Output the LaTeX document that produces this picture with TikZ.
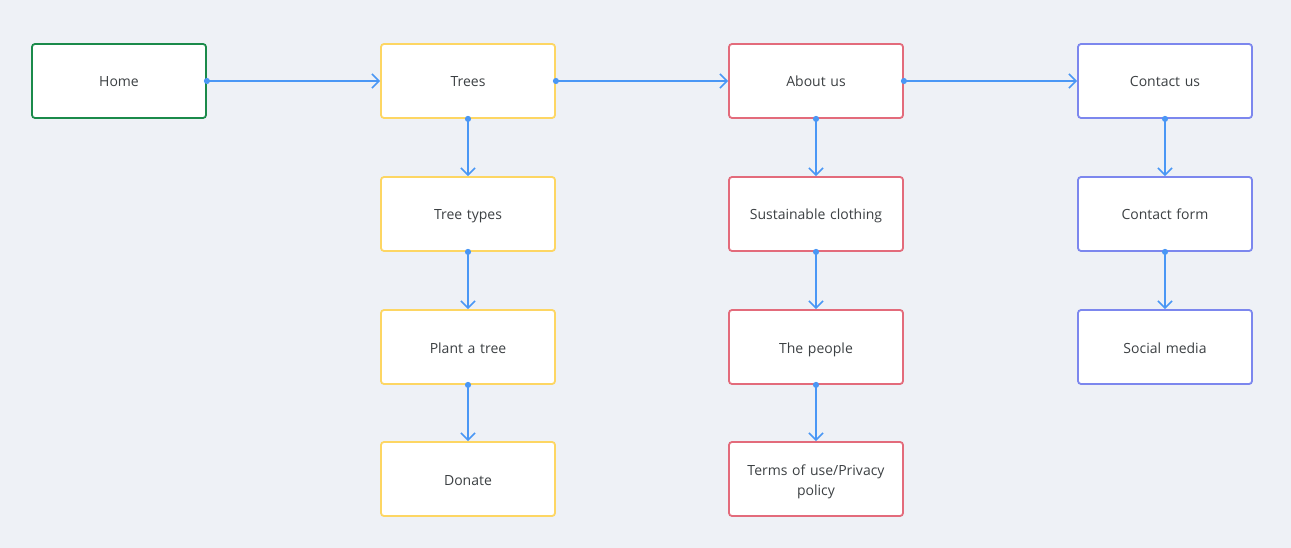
\documentclass[tikz,border=0pt]{standalone}
\usepackage{fontspec}
\setmainfont{Open Sans}
\usetikzlibrary{arrows.meta}
\definecolor{bg}{HTML}{EEF1F6}
\definecolor{cgreen}{HTML}{1A8A4A}
\definecolor{cyellow}{HTML}{FDD663}
\definecolor{cred}{HTML}{E36B7B}
\definecolor{cblue}{HTML}{7C87EE}
\definecolor{carrow}{HTML}{4A97F5}
\definecolor{ctext}{HTML}{3C4043}
\tikzset{
  page/.style={minimum width=174pt, minimum height=74pt, rounded corners=3pt, line width=1.8pt, fill=white, text=ctext, align=center, text width=160pt, font=\fontsize{14}{20}\selectfont, inner sep=0pt},
  onel/.style={text height=13pt, text depth=1pt},
  gbox/.style={page, onel, draw=cgreen},
  ybox/.style={page, onel, draw=cyellow},
  rbox/.style={page, onel, draw=cred},
  rboxm/.style={page, draw=cred, text depth=18pt},
  bbox/.style={page, onel, draw=cblue},
  link/.style={draw=carrow, line width=1.6pt, {Circle[length=6pt]}-{Straight Barb[length=7pt,width=14pt,line width=1.6pt]}, shorten <=-3pt},
}
\begin{document}
\begin{tikzpicture}[x=1pt,y=-1pt]
\fill[bg] (0,0) rectangle (1291,548);
\useasboundingbox (0,0) rectangle (1291,548);
\node[gbox] (home) at (119,81) {Home};
\node[ybox] (trees) at (468,81) {Trees};
\node[ybox] (types) at (468,214) {Tree types};
\node[ybox] (plant) at (468,347) {Plant a tree};
\node[ybox] (donate) at (468,479) {Donate};
\node[rbox] (about) at (816,81) {About us};
\node[rbox] (sust) at (816,214) {Sustainable clothing};
\node[rbox] (people) at (816,347) {The people};
\node[rboxm] (terms) at (816,479) {Terms of use/Privacy\\policy};
\node[bbox] (contact) at (1165,81) {Contact us};
\node[bbox] (form) at (1165,214) {Contact form};
\node[bbox] (social) at (1165,347) {Social media};
\draw[link] (home.east) -- (trees.west);
\draw[link] (trees.east) -- (about.west);
\draw[link] (about.east) -- (contact.west);
\draw[link] (trees.south) -- (types.north);
\draw[link] (types.south) -- (plant.north);
\draw[link] (plant.south) -- (donate.north);
\draw[link] (about.south) -- (sust.north);
\draw[link] (sust.south) -- (people.north);
\draw[link] (people.south) -- (terms.north);
\draw[link] (contact.south) -- (form.north);
\draw[link] (form.south) -- (social.north);
\end{tikzpicture}
\end{document}
